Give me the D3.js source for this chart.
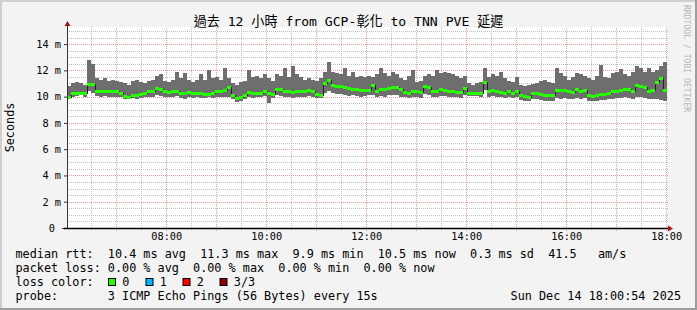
<!DOCTYPE html>
<html>
<head>
<meta charset="utf-8">
<script src="https://cdn.jsdelivr.net/npm/d3@7"></script>
<style>
  html, body { margin: 0; padding: 0; background: #fff; }
  svg text { font-family: "DejaVu Sans Mono", "Noto Sans CJK TC", monospace; }
</style>
</head>
<body>
<svg id="chart"></svg>
<script>
// time window of the graph (12 hours, rrd steps of 4.8 min)
const startTime = new Date(Date.UTC(2025, 11, 14, 6, 0, 54));
const endTime = new Date(Date.UTC(2025, 11, 14, 18, 0, 54));
const stepMinutes = 4.8;

// median rtt per step (ms)
const medianRtt = [
  10.0, 10.25, 10.3, 10.3, 10.3, 10.95, 10.95, 10.4, 10.4, 10.45,
  10.4, 10.4, 10.45, 10.3, 10.05, 10.0, 10.1, 10.1, 10.2, 10.3,
  10.4, 10.45, 10.65, 10.6, 10.4, 10.35, 10.4, 10.45, 10.3, 10.3,
  10.35, 10.3, 10.25, 10.25, 10.2, 10.2, 10.3, 10.4, 10.4, 10.5,
  10.75, 10.15, 9.9, 9.95, 10.1, 10.35, 10.25, 10.25, 10.3, 10.45,
  10.3, 10.2, 10.6, 10.6, 10.45, 10.4, 10.35, 10.4, 10.45, 10.45,
  10.5, 10.45, 10.2, 10.15, 11.0, 11.25, 10.85, 10.8, 10.8, 10.7,
  10.65, 10.6, 10.55, 10.5, 10.5, 10.5, 10.9, 10.4, 10.6, 10.6,
  10.65, 10.7, 10.7, 10.55, 10.35, 10.3, 10.45, 10.4, 10.35, 10.8,
  10.75, 10.4, 10.45, 10.55, 10.5, 10.45, 10.45, 10.35, 10.35, 10.65,
  10.25, 10.25, 10.25, 10.25, 11.1, 10.45, 10.5, 10.45, 10.35, 10.3,
  10.4, 10.3, 10.4, 10.1, 10.05, 10.0, 10.25, 10.25, 10.2, 10.15,
  10.15, 10.1, 10.5, 10.5, 10.5, 10.4, 10.35, 10.6, 10.45, 10.5,
  10.1, 10.05, 10.15, 10.2, 10.2, 10.3, 10.4, 10.45, 10.5, 10.6,
  10.55, 10.4, 10.9, 10.8, 10.75, 10.45, 10.5, 11.1, 11.4, 10.5
];

// slowest ping per step (top of the smoke, ms)
const pingMax = [
  10.8, 11.0, 11.1, 11.0, 10.9, 12.8, 12.5, 11.4, 11.3, 11.4,
  11.2, 11.3, 11.2, 11.1, 11.0, 10.9, 11.2, 11.3, 11.1, 11.0,
  11.2, 11.3, 11.6, 11.7, 11.2, 11.1, 11.3, 11.9, 11.4, 11.8,
  11.3, 11.1, 11.3, 11.7, 11.3, 12.0, 11.4, 11.5, 11.3, 12.15,
  11.4, 11.0, 10.9, 11.1, 11.2, 12.0, 11.5, 11.6, 11.4, 11.7,
  11.4, 11.2, 11.7, 11.6, 12.15, 11.5, 12.3, 11.7, 11.5, 11.3,
  11.4, 11.3, 11.2, 11.4, 11.9, 12.66, 11.9, 11.8, 11.7, 12.15,
  11.6, 11.9, 11.5, 11.6, 11.5, 11.6, 11.5, 11.7, 12.2, 11.8,
  11.6, 11.9, 11.7, 11.4, 11.3, 11.6, 12.0, 11.1, 11.2, 11.6,
  11.7, 11.6, 12.0, 11.8, 11.9, 11.8, 11.7, 11.6, 11.4, 11.6,
  11.0, 10.9, 11.0, 11.1, 12.15, 11.5, 11.7, 11.6, 11.9, 11.4,
  11.2, 11.1, 11.5, 10.85, 10.8, 10.85, 10.95, 11.0, 11.2, 11.3,
  11.1, 11.0, 12.15, 11.8, 11.6, 11.3, 11.5, 11.8, 11.7, 11.6,
  11.4, 11.3, 11.6, 12.4, 11.5, 11.4, 11.8, 11.9, 12.1, 11.7,
  11.6, 11.9, 12.3, 12.2, 11.9, 12.2, 11.9, 12.0, 12.3, 12.66
];

// fastest ping per step (bottom of the smoke, ms)
const pingMin = [
  9.85, 9.95, 10.05, 10.1, 10.0, 10.4, 10.3, 10.05, 10.0, 10.05,
  10.0, 10.0, 10.0, 9.95, 9.85, 9.8, 9.9, 9.85, 9.9, 10.0,
  10.0, 9.95, 10.1, 10.05, 9.95, 10.0, 10.0, 10.05, 9.9, 9.85,
  10.0, 9.9, 9.95, 9.9, 9.9, 9.95, 9.9, 10.0, 9.95, 10.0,
  10.0, 9.85, 9.6, 9.7, 9.85, 9.95, 9.9, 9.95, 10.0, 10.05,
  9.55, 9.9, 10.1, 10.05, 10.0, 9.95, 9.9, 9.95, 10.0, 10.0,
  10.05, 10.0, 9.9, 9.9, 10.3, 10.4, 10.3, 10.2, 10.2, 10.1,
  10.05, 10.1, 10.05, 10.0, 10.05, 10.1, 10.1, 10.0, 10.05, 10.0,
  10.1, 10.1, 10.1, 10.0, 9.95, 9.9, 10.0, 9.95, 9.9, 10.2,
  10.15, 10.0, 10.0, 10.05, 10.05, 10.0, 10.0, 9.95, 9.9, 10.1,
  10.05, 10.05, 10.05, 10.0, 10.5, 10.0, 10.05, 10.0, 9.95, 9.9,
  9.95, 9.9, 9.95, 9.75, 9.7, 9.65, 9.8, 9.8, 9.75, 9.7,
  9.7, 9.7, 9.9, 9.85, 9.9, 9.85, 9.8, 9.9, 9.85, 9.9,
  9.7, 9.65, 9.7, 9.75, 9.75, 9.8, 9.85, 9.9, 9.9, 9.95,
  9.9, 9.85, 10.0, 9.95, 9.9, 9.8, 9.85, 9.8, 9.75, 9.65
];

// axis tick labels
const yTickValues = [0, 2, 4, 6, 8, 10, 12, 14];
const yMax = 15.3;

// legend
const titleText = "過去 12 小時 from GCP-彰化 to TNN PVE 延遲";
const legendLines = [
  "median rtt:  10.4 ms avg  11.3 ms max  9.9 ms min  10.5 ms now  0.3 ms sd  41.5   am/s",
  "packet loss: 0.00 % avg  0.00 % max  0.00 % min  0.00 % now",
  "loss color:",
  "probe:       3 ICMP Echo Pings (56 Bytes) every 15s"
];
const lossLabels = ["0", "1", "2", "3/3"];
const lossColors = ["#26ff00", "#00b8ff", "#ff0000", "#8c0000"];
const stampText = "Sun Dec 14 18:00:54 2025";

const svg_width = 697, svg_height = 310;
const margin = {top: 27, right: 30, bottom: 82, left: 67},
      width = svg_width - margin.left - margin.right,
      height = svg_height - margin.top - margin.bottom;

const mono = "'DejaVu Sans Mono', 'Noto Sans CJK TC', monospace";
const minorGrid = "#c0c0c0", majorGrid = "#ec9a9a";

const svg = d3.select("#chart")
  .attr("width", svg_width)
  .attr("height", svg_height);

// back + shade frame
svg.append("rect")
  .attr("width", svg_width).attr("height", svg_height)
  .attr("fill", "#f3f3f3");
svg.append("rect").attr("x", 0).attr("y", 0).attr("width", svg_width).attr("height", 2).attr("fill", "#cfcfcf");
svg.append("rect").attr("x", 0).attr("y", 0).attr("width", 2).attr("height", svg_height).attr("fill", "#cfcfcf");
svg.append("rect").attr("x", 0).attr("y", svg_height - 2).attr("width", svg_width).attr("height", 2).attr("fill", "#9e9e9e");
svg.append("rect").attr("x", svg_width - 2).attr("y", 0).attr("width", 2).attr("height", svg_height).attr("fill", "#9e9e9e");

const chart = svg.append("g")
  .attr("transform", `translate(${margin.left},${margin.top})`);

// canvas
chart.append("rect")
  .attr("width", width).attr("height", height)
  .attr("fill", "#fff");

const xScale = d3.scaleUtc()
  .domain([startTime, endTime])
  .range([0, width]);

const yScale = d3.scaleLinear()
  .domain([0, yMax])
  .range([height, 0]);

// steps
const bins = medianRtt.map((m, i) => {
  const t0 = d3.utcSecond.offset(startTime, Math.round(i * stepMinutes * 60));
  const t1 = d3.utcSecond.offset(startTime, Math.round((i + 1) * stepMinutes * 60));
  return {t0, t1: t1 > endTime ? endTime : t1, med: m, hi: pingMax[i], lo: pingMin[i]};
});

const px = v => Math.round(v) + 0.5;

// grid lines, dotted like rrdtool
const xMinor = xScale.ticks(d3.utcMinute.every(30)).filter(t => t.getUTCMinutes() !== 0);
const xMajor = xScale.ticks(d3.utcHour.every(1));
const yMinor = yScale.ticks(30).filter(v => v > 0 && !yTickValues.includes(v));
const yMajor = yTickValues.filter(v => v > 0);

const grid = chart.append("g")
  .attr("stroke-dasharray", "1,1")
  .attr("stroke-width", 1);

grid.selectAll("line.vminor")
  .data(xMinor)
  .join("line")
    .attr("class", "vminor")
    .attr("x1", d => px(xScale(d))).attr("x2", d => px(xScale(d)))
    .attr("y1", height + 2).attr("y2", 0)
    .attr("stroke", minorGrid);

grid.selectAll("line.hminor")
  .data(yMinor)
  .join("line")
    .attr("class", "hminor")
    .attr("x1", 0).attr("x2", width + 1)
    .attr("y1", d => px(yScale(d))).attr("y2", d => px(yScale(d)))
    .attr("stroke", minorGrid);

grid.selectAll("line.vmajor")
  .data(xMajor)
  .join("line")
    .attr("class", "vmajor")
    .attr("x1", d => px(xScale(d))).attr("x2", d => px(xScale(d)))
    .attr("y1", height + 3).attr("y2", 0)
    .attr("stroke", majorGrid);

grid.selectAll("line.hmajor")
  .data(yMajor)
  .join("line")
    .attr("class", "hmajor")
    .attr("x1", 0).attr("x2", width + 1)
    .attr("y1", d => px(yScale(d))).attr("y2", d => px(yScale(d)))
    .attr("stroke", majorGrid);

// smoke
chart.append("g")
  .selectAll("rect")
  .data(bins)
  .join("rect")
    .attr("x", d => xScale(d.t0))
    .attr("width", d => xScale(d.t1) - xScale(d.t0))
    .attr("y", d => yScale(d.hi))
    .attr("height", d => yScale(d.lo) - yScale(d.hi))
    .attr("fill", "#6e6e6e")
    .attr("shape-rendering", "crispEdges");

// median line (dark step line)
const medPoints = bins.map(d => ({t: d.t0, v: d.med}));
medPoints.push({t: endTime, v: bins[bins.length - 1].med});
chart.append("path")
  .datum(medPoints)
  .attr("fill", "none")
  .attr("stroke", "#202020")
  .attr("stroke-width", 1)
  .attr("shape-rendering", "crispEdges")
  .attr("d", d3.line()
    .x(d => xScale(d.t))
    .y(d => Math.round(yScale(d.v)) + 0.5)
    .curve(d3.curveStepAfter));

// median boxes coloured by loss (all 0 loss here)
chart.append("g")
  .selectAll("rect")
  .data(bins)
  .join("rect")
    .attr("x", d => xScale(d.t0))
    .attr("width", d => xScale(d.t1) - xScale(d.t0))
    .attr("y", d => Math.round(yScale(d.med)) - 1)
    .attr("height", 3)
    .attr("fill", lossColors[0])
    .attr("shape-rendering", "crispEdges");

// y axis with labels
const yAxisG = chart.append("g")
  .call(d3.axisLeft(yScale)
    .tickValues(yTickValues)
    .tickSizeInner(3)
    .tickSizeOuter(0)
    .tickPadding(3)
    .tickFormat(d => d === 0 ? "0" : d + " m"))
  .call(g => g.select(".domain").remove());
yAxisG.selectAll("line").attr("stroke", "#333");
yAxisG.selectAll("text")
  .attr("font-family", mono)
  .attr("font-size", "10.3px")
  .attr("fill", "#000");
yAxisG.selectAll(".tick").filter(d => d === 0).select("text").attr("dx", -6);
yAxisG.selectAll(".tick").filter(d => d === 0).select("line").attr("x2", -5);

// x axis labels
const xAxisG = chart.append("g")
  .attr("transform", `translate(0,${height})`)
  .call(d3.axisBottom(xScale)
    .ticks(d3.utcHour.every(2))
    .tickSize(0)
    .tickPadding(4.8)
    .tickFormat(d3.utcFormat("%H:%M")))
  .call(g => g.select(".domain").remove());
xAxisG.selectAll("text")
  .attr("font-family", mono)
  .attr("font-size", "10.3px")
  .attr("fill", "#000");

// axis lines + arrows
chart.append("line")
  .attr("x1", 0.5).attr("x2", 0.5)
  .attr("y1", height).attr("y2", -2)
  .attr("stroke", "#333").attr("stroke-width", 1);
chart.append("line")
  .attr("x1", -3).attr("x2", width + 2)
  .attr("y1", height + 0.5).attr("y2", height + 0.5)
  .attr("stroke", "#000").attr("stroke-width", 1.4);
chart.append("path")
  .attr("d", "M-2.5,-1 L3.5,-1 L0.5,-6 Z")
  .attr("fill", "#a01818");
chart.append("path")
  .attr("d", `M${width + 1},${height - 2.5} L${width + 1},${height + 3.5} L${width + 6},${height + 0.5} Z`)
  .attr("fill", "#a01818");

// title
svg.append("text")
  .attr("x", 348.5)
  .attr("y", 26)
  .attr("text-anchor", "middle")
  .attr("font-family", mono)
  .attr("font-size", "13.1px")
  .attr("fill", "#000")
  .style("white-space", "pre")
  .text(titleText);

// y unit label
svg.append("text")
  .attr("transform", "translate(13.5,127.5) rotate(-90)")
  .attr("text-anchor", "middle")
  .attr("font-family", mono)
  .attr("font-size", "11.8px")
  .attr("fill", "#000")
  .text("Seconds");

// watermark
svg.append("text")
  .attr("transform", "translate(684,5) rotate(90)")
  .attr("font-family", mono)
  .attr("font-size", "8.1px")
  .attr("fill", "#b8b8b8")
  .style("white-space", "pre")
  .text("RRDTOOL / TOBI OETIKER");

// legend lines
svg.append("g")
  .selectAll("text")
  .data(legendLines)
  .join("text")
    .attr("x", 15.5)
    .attr("y", (d, i) => 258 + i * 14)
    .attr("font-family", mono)
    .attr("font-size", "11.8px")
    .attr("fill", "#000")
    .style("white-space", "pre")
    .text(d => d);

// loss colour swatches
const swatchX = [108, 145.5, 182.5, 219.5];
const lossG = svg.append("g");
lossG.selectAll("rect")
  .data(lossColors)
  .join("rect")
    .attr("x", (d, i) => swatchX[i] + 0.5)
    .attr("y", 278.5)
    .attr("width", 7)
    .attr("height", 7)
    .attr("fill", d => d)
    .attr("stroke", "#000")
    .attr("stroke-width", 1);
lossG.selectAll("text")
  .data(lossLabels)
  .join("text")
    .attr("x", (d, i) => swatchX[i] + 14.3)
    .attr("y", 286)
    .attr("font-family", mono)
    .attr("font-size", "11.8px")
    .attr("fill", "#000")
    .text(d => d);

// timestamp
svg.append("text")
  .attr("x", 681)
  .attr("y", 300)
  .attr("text-anchor", "end")
  .attr("font-family", mono)
  .attr("font-size", "11.8px")
  .attr("fill", "#000")
  .text(stampText);
</script>
</body>
</html>
